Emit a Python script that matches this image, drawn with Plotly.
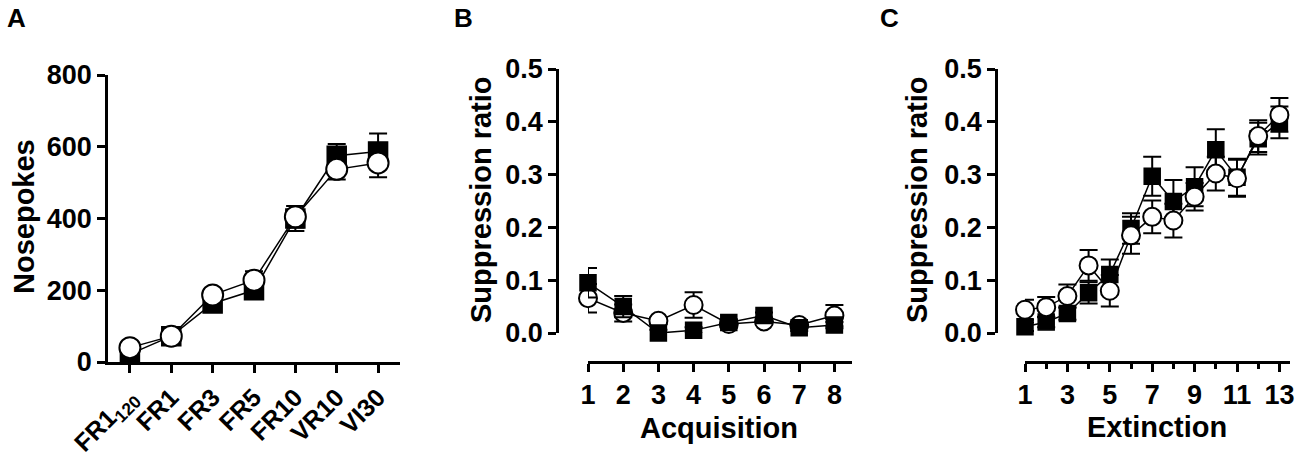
import plotly.graph_objects as go

W, H = 1300, 461

# ---------------- data ----------------
schedules = ["FR1<sub>120</sub>", "FR1", "FR3", "FR5", "FR10", "VR10", "VI30"]
a_square = [22, 72, 163, 200, 400, 575, 587]
a_square_err = [8, 10, 12, 12, 35, 33, 50]
a_circle = [40, 72, 187, 228, 405, 537, 555]
a_circle_err = [8, 10, 12, 25, 30, 28, 40]

acq_sessions = [1, 2, 3, 4, 5, 6, 7, 8]
b_square = [0.095, 0.050, 0.000, 0.005, 0.020, 0.033, 0.010, 0.015]
b_square_err = [0.028, 0.020, 0.006, 0.006, 0.006, 0.006, 0.006, 0.006]
b_circle = [0.066, 0.038, 0.023, 0.053, 0.017, 0.022, 0.015, 0.033]
b_circle_err = [0.027, 0.016, 0.006, 0.024, 0.006, 0.006, 0.006, 0.020]

ext_sessions = [1, 2, 3, 4, 5, 6, 7, 8, 9, 10, 11, 12, 13]
c_square = [0.012, 0.021, 0.037, 0.076, 0.111, 0.198, 0.297, 0.249, 0.277, 0.347, 0.295, 0.368, 0.399]
c_square_err = [0.008, 0.010, 0.012, 0.020, 0.028, 0.029, 0.037, 0.041, 0.037, 0.039, 0.035, 0.030, 0.030]
c_circle = [0.044, 0.049, 0.070, 0.128, 0.080, 0.185, 0.220, 0.213, 0.258, 0.302, 0.293, 0.373, 0.413]
c_circle_err = [0.019, 0.019, 0.022, 0.029, 0.030, 0.035, 0.031, 0.032, 0.026, 0.032, 0.035, 0.030, 0.032]

y_ticks_sr = [0.0, 0.1, 0.2, 0.3, 0.4, 0.5]
y_ticks_np = [0, 200, 400, 600, 800]
ext_tickvals = [1, 3, 5, 7, 9, 11, 13]

# ---------------- helpers ----------------
def px(x):
    return x / W

def py(y):
    return 1 - y / H

FONT = "Liberation Sans, Arial, sans-serif"
tickfont = dict(family=FONT, size=27, color="black", weight="bold")
tickfont_a_x = dict(family=FONT, size=25, color="black", weight="bold")

fig = go.Figure()

def add_pair(x, sq, sq_err, ci, ci_err, xa, ya, msize, circle_on_top=True):
    sq_tr = go.Scatter(
        x=x, y=sq, xaxis=xa, yaxis=ya, mode="lines+markers",
        line=dict(color="black", width=1.5),
        marker=dict(symbol="square", size=msize, color="black", line=dict(color="black", width=1.5)),
        error_y=dict(type="data", array=sq_err, visible=True, color="black", thickness=2, width=9),
        cliponaxis=False, showlegend=False,
    )
    ci_tr = go.Scatter(
        x=x, y=ci, xaxis=xa, yaxis=ya, mode="lines+markers",
        line=dict(color="black", width=1.5),
        marker=dict(symbol="circle", size=msize + 2, color="white", line=dict(color="black", width=2)),
        error_y=dict(type="data", array=ci_err, visible=True, color="black", thickness=2, width=9),
        cliponaxis=False, showlegend=False,
    )
    if circle_on_top:
        fig.add_trace(sq_tr)
        fig.add_trace(ci_tr)
    else:
        fig.add_trace(ci_tr)
        fig.add_trace(sq_tr)

add_pair(schedules, a_square, a_square_err, a_circle, a_circle_err, "x", "y", 19, True)
add_pair(acq_sessions, b_square, b_square_err, b_circle, b_circle_err, "x2", "y2", 16, False)
add_pair(ext_sessions, c_square, c_square_err, c_circle, c_circle_err, "x3", "y3", 16, True)

axis_common = dict(
    showline=True, linecolor="black", linewidth=2.5,
    ticks="outside", ticklen=8, tickwidth=2.5, tickcolor="black",
    showgrid=False, zeroline=False, automargin=False,
)

fig.update_layout(
    width=W, height=H,
    margin=dict(l=0, r=0, t=0, b=0),
    paper_bgcolor="white", plot_bgcolor="white",
    # Panel A
    xaxis=dict(domain=[px(108), px(400)], type="category", range=[-0.53, 6.53],
               tickangle=-45, anchor="y", tickfont=tickfont_a_x, **axis_common),
    yaxis=dict(domain=[py(362), py(75)], range=[0, 800], tickvals=y_ticks_np,
               anchor="x", tickfont=tickfont, **axis_common),
    # Panel B
    xaxis2=dict(domain=[px(588), px(852)], range=[1, 8.5], tickvals=acq_sessions,
                anchor="free", position=py(362), tickfont=tickfont, **axis_common),
    yaxis2=dict(domain=[py(333), py(69)], range=[0, 0.5], tickvals=y_ticks_sr,
                tickformat=".1f", anchor="free", position=px(557), tickfont=tickfont, **axis_common),
    # Panel C
    xaxis3=dict(domain=[px(1025), px(1290)], range=[1, 13.5], tickvals=ext_tickvals,
                minor=dict(dtick=1, tick0=1, ticks="outside", ticklen=5, tickwidth=2.5,
                           tickcolor="black", showgrid=False),
                anchor="free", position=py(362), tickfont=tickfont, **axis_common),
    yaxis3=dict(domain=[py(333), py(69)], range=[0, 0.5], tickvals=y_ticks_sr,
                tickformat=".1f", anchor="free", position=px(996), tickfont=tickfont, **axis_common),
)

titlefont = dict(family=FONT, size=29, color="black", weight="bold")
letterfont = dict(family=FONT, size=26, color="black", weight="bold")

annotations = [
    dict(text="Nosepokes", x=px(24), y=py(217), textangle=-90, font=titlefont),
    dict(text="Suppression ratio", x=px(481), y=py(200), textangle=-90, font=titlefont),
    dict(text="Suppression ratio", x=px(917), y=py(200), textangle=-90, font=titlefont),
    dict(text="Acquisition", x=px(719), y=py(428), font=titlefont),
    dict(text="Extinction", x=px(1157), y=py(427), font=titlefont),
    dict(text="A", x=px(16), y=py(18), font=letterfont),
    dict(text="B", x=px(463), y=py(18), font=letterfont),
    dict(text="C", x=px(889), y=py(18), font=letterfont),
]
for a in annotations:
    a.update(xref="paper", yref="paper", xanchor="center", yanchor="middle", showarrow=False)
fig.update_layout(annotations=annotations)

fig.write_html("out.html", config={"displayModeBar": False},
               post_script="document.body.style.margin='0';")
